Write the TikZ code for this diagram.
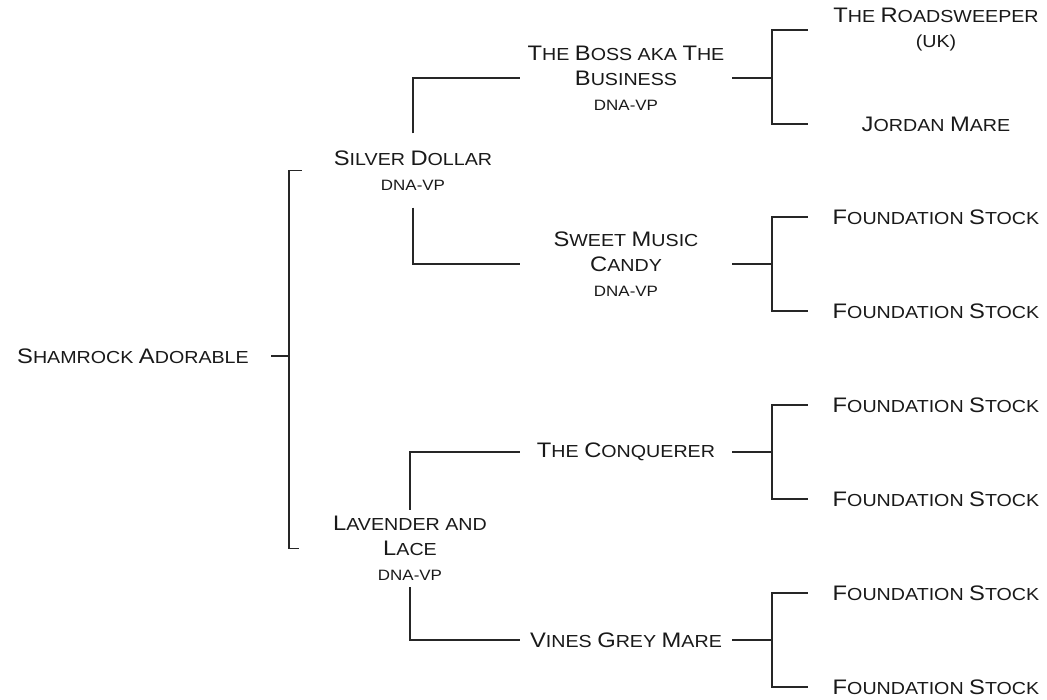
\documentclass[tikz,border=0pt]{standalone}
\usepackage{fontspec}
\setmainfont[FakeStretch=1.13]{Liberation Sans}
\newcommand\Bg[1]{{\fontsize{21}{25}\selectfont #1}}
\newcommand\Dv{{\fontsize{15}{25}\selectfont DNA-VP}}
\begin{document}
\begin{tikzpicture}[x=1pt,y=-1pt,
  every node/.style={inner sep=0pt,align=center,font=\fontsize{17.4}{25}\selectfont,text=black!90},
  rootbox/.style={minimum width=276pt},
  gen1/.style={minimum width=222pt},
  gen2/.style={minimum width=212pt},
  leaf/.style={minimum width=256pt},
  conn/.style={draw=black!85,line width=1.3pt}]
\useasboundingbox (0,0) rectangle (1047,700);
% nodes
\node[rootbox] (root) at (133,356) {\Bg{S}HAMROCK \Bg{A}DORABLE};
\node[gen1,minimum height=74pt] (sd) at (413,170.5) {\Bg{S}ILVER \Bg{D}OLLAR\\\Dv};
\node[gen1,minimum height=77pt] (ll) at (410,548.5) {\Bg{L}AVENDER AND\\\Bg{L}ACE\\\Dv};
\node[gen2] (boss) at (626,78) {\Bg{T}HE \Bg{B}OSS AKA \Bg{T}HE\\\Bg{B}USINESS\\\Dv};
\node[gen2] (smc) at (626,264) {\Bg{S}WEET \Bg{M}USIC\\\Bg{C}ANDY\\\Dv};
\node[gen2] (conq) at (626,452) {\Bg{T}HE \Bg{C}ONQUERER};
\node[gen2] (vgm) at (626,640) {\Bg{V}INES \Bg{G}REY \Bg{M}ARE};
\node[leaf] (rs) at (936,30) {\Bg{T}HE \Bg{R}OADSWEEPER\\(UK)};
\node[leaf] (jm) at (936,124) {\Bg{J}ORDAN \Bg{M}ARE};
\node[leaf] (f1) at (936,217) {\Bg{F}OUNDATION \Bg{S}TOCK};
\node[leaf] (f2) at (936,311) {\Bg{F}OUNDATION \Bg{S}TOCK};
\node[leaf] (f3) at (936,405) {\Bg{F}OUNDATION \Bg{S}TOCK};
\node[leaf] (f4) at (936,499) {\Bg{F}OUNDATION \Bg{S}TOCK};
\node[leaf] (f5) at (936,593) {\Bg{F}OUNDATION \Bg{S}TOCK};
\node[leaf] (f6) at (936,687) {\Bg{F}OUNDATION \Bg{S}TOCK};
% bracket joints
\coordinate (b0) at (289,356);
\coordinate (b1) at (772,78);
\coordinate (b2) at (772,264);
\coordinate (b3) at (772,452);
\coordinate (b4) at (772,640);
% connectors
\draw[conn] (root.east) -- (b0);
\draw[conn] (sd.west) -| (b0) |- (ll.west);
\draw[conn] (sd.north) |- (boss.west);
\draw[conn] (sd.south) |- (smc.west);
\draw[conn] (ll.north) |- (conq.west);
\draw[conn] (ll.south) |- (vgm.west);
\draw[conn] (boss.east) -- (b1);
\draw[conn] (rs.west) -| (b1) |- (jm.west);
\draw[conn] (smc.east) -- (b2);
\draw[conn] (f1.west) -| (b2) |- (f2.west);
\draw[conn] (conq.east) -- (b3);
\draw[conn] (f3.west) -| (b3) |- (f4.west);
\draw[conn] (vgm.east) -- (b4);
\draw[conn] (f5.west) -| (b4) |- (f6.west);
\end{tikzpicture}
\end{document}
